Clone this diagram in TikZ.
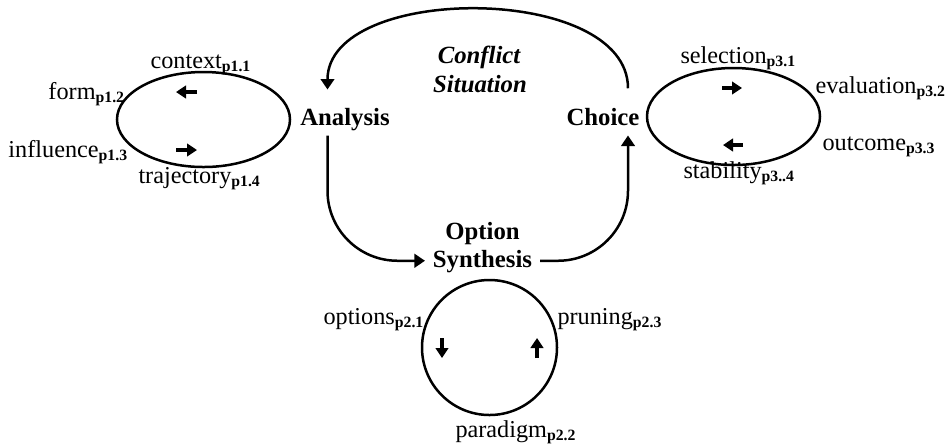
\documentclass[tikz,border=0pt]{standalone}
\usepackage{fontspec}
\setmainfont{Liberation Serif}
\usepackage{tikz}
\usetikzlibrary{shapes.geometric, arrows.meta}
\newcommand{\pidx}[1]{\raisebox{-1.3pt}{\fontsize{6.3}{7}\selectfont\bfseries #1}}
\tikzset{
  loopell/.style={ellipse, draw, line width=1pt, inner sep=0pt,
    minimum width=69.2pt, minimum height=38pt},
  loopcirc/.style={circle, draw, line width=1pt, inner sep=0pt,
    minimum size=54pt},
  stage/.style={font=\fontsize{9.9}{11.6}\selectfont\bfseries, anchor=base,
    inner xsep=3pt, inner ysep=2pt, text height=7pt, text depth=2pt},
  topic/.style={font=\fontsize{9.9}{11.6}\selectfont\bfseries\itshape, anchor=base},
  lbl/.style={font=\fontsize{9.7}{11.6}\selectfont, anchor=base west, inner sep=0pt},
  flow/.style={-{Triangle[length=4.2pt, width=5.4pt]}, line width=1pt},
  dirtip/.style={-{Triangle[length=4pt, width=5pt]}, line width=1.3pt}
}
\begin{document}
\begin{tikzpicture}[x=0.4pt, y=-0.4pt]
  \useasboundingbox (0,0) rectangle (947,443);
  % ── stages ────────────────────────────────────────────────────────────
  \node[topic] (conflict) at (479,63) {Conflict};
  \node[topic] (situation) at (480,92) {Situation};
  \node[stage] (analysis) at (345,125) {Analysis};
  \node[stage] (choice) at (603,125) {Choice};
  \node[stage] (option) at (482.5,239) {Option};
  \node[stage] (synth) at (482.5,267) {Synthesis};
  % ── loops ─────────────────────────────────────────────────────────────
  \node[loopell] (orient) at (203.5,119.5) {};
  \node[loopcirc] (generate) at (489.5,347.5) {};
  \node[loopell, minimum height=38.8pt] (decide) at (733.5,116.5) {};
  % direction marks
  \draw[dirtip] (197,92) -- (176,92);
  \draw[dirtip] (176,150) -- (197,150);
  \draw[dirtip] (722,88) -- (742,88);
  \draw[dirtip] (743,145) -- (723,145);
  \draw[dirtip] (442,338) -- (442,358);
  \draw[dirtip] (537,358) -- (537,338);
  % ── phase labels ──────────────────────────────────────────────────────
  \node[lbl] (context) at (150,68) {context\pidx{p1.1}};
  \node[lbl] (form) at (48,99) {form\pidx{p1.2}};
  \node[lbl] (influence) at (8,157) {influence\pidx{p1.3}};
  \node[lbl] (trajectory) at (138,183) {trajectory\pidx{p1.4}};
  \node[lbl] (options) at (323,324) {options\pidx{p2.1}};
  \node[lbl] (pruning) at (557,324) {pruning\pidx{p2.3}};
  \node[lbl] (paradigm) at (455,437) {paradigm\pidx{p2.2}};
  \node[lbl] (selection) at (680,63) {selection\pidx{p3.1}};
  \node[lbl] (evaluation) at (815,93) {evaluation\pidx{p3.2}};
  \node[lbl] (outcome) at (822,150) {outcome\pidx{p3.3}};
  \node[lbl] (stability) at (683,178) {stability\pidx{p3..4}};
  % ── cycle ─────────────────────────────────────────────────────────────
  \draw[flow, shorten <=5.5pt, shorten >=5pt] ([xshift=10pt]choice.north)
    .. controls +(0,-119) and +(0,-119) .. ([xshift=-7pt]analysis.north);
  \draw[flow, rounded corners=28pt] ([xshift=-7pt]analysis.south) |- (synth.west);
  \draw[flow, rounded corners=28pt] (synth.east) -| ([xshift=10pt]choice.south);
\end{tikzpicture}
\end{document}
